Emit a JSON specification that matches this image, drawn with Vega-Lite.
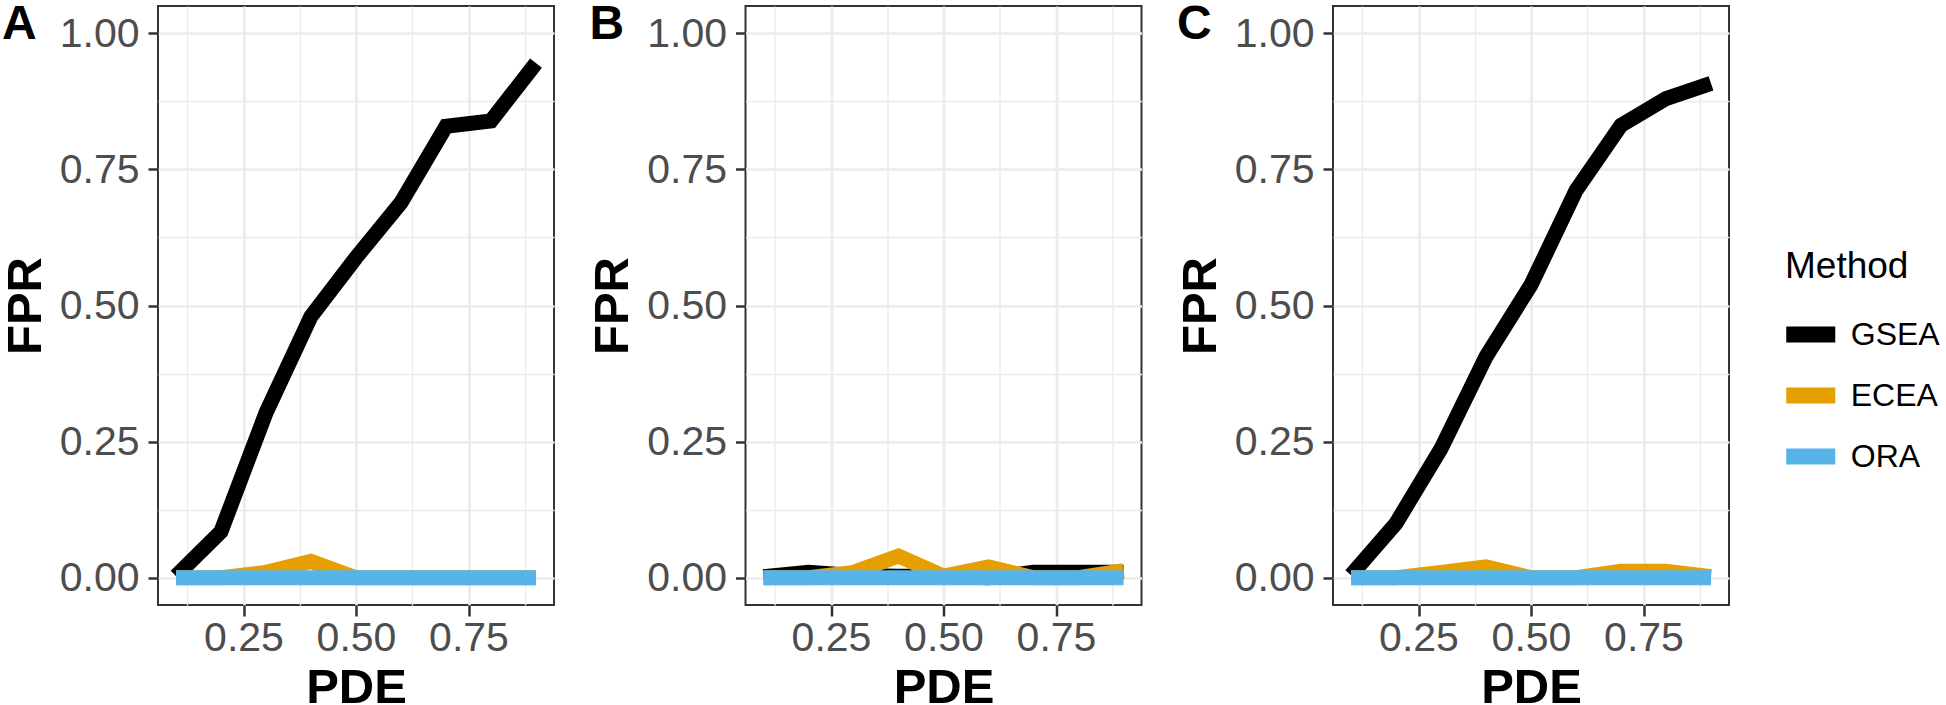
{
  "$schema": "https://vega.github.io/schema/vega-lite/v6.json",
  "autosize": {"type": "pad"},
  "padding": {"left": 0, "top": 0, "right": 0, "bottom": 0},
  "background": "white",
  "data": {"values": [
    {"panel": "A", "Method": "GSEA", "PDE": 0.1, "FPR": 0.003},
    {"panel": "A", "Method": "GSEA", "PDE": 0.2, "FPR": 0.085},
    {"panel": "A", "Method": "GSEA", "PDE": 0.3, "FPR": 0.303},
    {"panel": "A", "Method": "GSEA", "PDE": 0.4, "FPR": 0.48},
    {"panel": "A", "Method": "GSEA", "PDE": 0.5, "FPR": 0.588},
    {"panel": "A", "Method": "GSEA", "PDE": 0.6, "FPR": 0.689},
    {"panel": "A", "Method": "GSEA", "PDE": 0.7, "FPR": 0.829},
    {"panel": "A", "Method": "GSEA", "PDE": 0.8, "FPR": 0.839},
    {"panel": "A", "Method": "GSEA", "PDE": 0.9, "FPR": 0.945},
    {"panel": "A", "Method": "ECEA", "PDE": 0.1, "FPR": 0.0},
    {"panel": "A", "Method": "ECEA", "PDE": 0.2, "FPR": 0.0},
    {"panel": "A", "Method": "ECEA", "PDE": 0.3, "FPR": 0.01},
    {"panel": "A", "Method": "ECEA", "PDE": 0.4, "FPR": 0.03},
    {"panel": "A", "Method": "ECEA", "PDE": 0.5, "FPR": 0.0},
    {"panel": "A", "Method": "ECEA", "PDE": 0.6, "FPR": 0.0},
    {"panel": "A", "Method": "ECEA", "PDE": 0.7, "FPR": 0.0},
    {"panel": "A", "Method": "ECEA", "PDE": 0.8, "FPR": 0.0},
    {"panel": "A", "Method": "ECEA", "PDE": 0.9, "FPR": 0.0},
    {"panel": "A", "Method": "ORA", "PDE": 0.1, "FPR": 0.0},
    {"panel": "A", "Method": "ORA", "PDE": 0.2, "FPR": 0.0},
    {"panel": "A", "Method": "ORA", "PDE": 0.3, "FPR": 0.0},
    {"panel": "A", "Method": "ORA", "PDE": 0.4, "FPR": 0.0},
    {"panel": "A", "Method": "ORA", "PDE": 0.5, "FPR": 0.0},
    {"panel": "A", "Method": "ORA", "PDE": 0.6, "FPR": 0.0},
    {"panel": "A", "Method": "ORA", "PDE": 0.7, "FPR": 0.0},
    {"panel": "A", "Method": "ORA", "PDE": 0.8, "FPR": 0.0},
    {"panel": "A", "Method": "ORA", "PDE": 0.9, "FPR": 0.0},
    {"panel": "B", "Method": "GSEA", "PDE": 0.1, "FPR": 0.002},
    {"panel": "B", "Method": "GSEA", "PDE": 0.2, "FPR": 0.01},
    {"panel": "B", "Method": "GSEA", "PDE": 0.3, "FPR": 0.004},
    {"panel": "B", "Method": "GSEA", "PDE": 0.4, "FPR": 0.003},
    {"panel": "B", "Method": "GSEA", "PDE": 0.5, "FPR": 0.003},
    {"panel": "B", "Method": "GSEA", "PDE": 0.6, "FPR": 0.0},
    {"panel": "B", "Method": "GSEA", "PDE": 0.7, "FPR": 0.01},
    {"panel": "B", "Method": "GSEA", "PDE": 0.8, "FPR": 0.01},
    {"panel": "B", "Method": "GSEA", "PDE": 0.9, "FPR": 0.01},
    {"panel": "B", "Method": "ECEA", "PDE": 0.1, "FPR": 0.0},
    {"panel": "B", "Method": "ECEA", "PDE": 0.2, "FPR": 0.0},
    {"panel": "B", "Method": "ECEA", "PDE": 0.3, "FPR": 0.01},
    {"panel": "B", "Method": "ECEA", "PDE": 0.4, "FPR": 0.04},
    {"panel": "B", "Method": "ECEA", "PDE": 0.5, "FPR": 0.003},
    {"panel": "B", "Method": "ECEA", "PDE": 0.6, "FPR": 0.02},
    {"panel": "B", "Method": "ECEA", "PDE": 0.7, "FPR": 0.0},
    {"panel": "B", "Method": "ECEA", "PDE": 0.8, "FPR": 0.0},
    {"panel": "B", "Method": "ECEA", "PDE": 0.9, "FPR": 0.013},
    {"panel": "B", "Method": "ORA", "PDE": 0.1, "FPR": 0.0},
    {"panel": "B", "Method": "ORA", "PDE": 0.2, "FPR": 0.0},
    {"panel": "B", "Method": "ORA", "PDE": 0.3, "FPR": 0.0},
    {"panel": "B", "Method": "ORA", "PDE": 0.4, "FPR": 0.0},
    {"panel": "B", "Method": "ORA", "PDE": 0.5, "FPR": 0.0},
    {"panel": "B", "Method": "ORA", "PDE": 0.6, "FPR": 0.0},
    {"panel": "B", "Method": "ORA", "PDE": 0.7, "FPR": 0.0},
    {"panel": "B", "Method": "ORA", "PDE": 0.8, "FPR": 0.0},
    {"panel": "B", "Method": "ORA", "PDE": 0.9, "FPR": 0.0},
    {"panel": "C", "Method": "GSEA", "PDE": 0.1, "FPR": 0.005},
    {"panel": "C", "Method": "GSEA", "PDE": 0.2, "FPR": 0.1},
    {"panel": "C", "Method": "GSEA", "PDE": 0.3, "FPR": 0.237},
    {"panel": "C", "Method": "GSEA", "PDE": 0.4, "FPR": 0.406},
    {"panel": "C", "Method": "GSEA", "PDE": 0.5, "FPR": 0.538},
    {"panel": "C", "Method": "GSEA", "PDE": 0.6, "FPR": 0.711},
    {"panel": "C", "Method": "GSEA", "PDE": 0.7, "FPR": 0.831},
    {"panel": "C", "Method": "GSEA", "PDE": 0.8, "FPR": 0.88},
    {"panel": "C", "Method": "GSEA", "PDE": 0.9, "FPR": 0.908},
    {"panel": "C", "Method": "ECEA", "PDE": 0.1, "FPR": 0.0},
    {"panel": "C", "Method": "ECEA", "PDE": 0.2, "FPR": 0.0},
    {"panel": "C", "Method": "ECEA", "PDE": 0.3, "FPR": 0.01},
    {"panel": "C", "Method": "ECEA", "PDE": 0.4, "FPR": 0.02},
    {"panel": "C", "Method": "ECEA", "PDE": 0.5, "FPR": 0.0},
    {"panel": "C", "Method": "ECEA", "PDE": 0.6, "FPR": 0.0},
    {"panel": "C", "Method": "ECEA", "PDE": 0.7, "FPR": 0.012},
    {"panel": "C", "Method": "ECEA", "PDE": 0.8, "FPR": 0.012},
    {"panel": "C", "Method": "ECEA", "PDE": 0.9, "FPR": 0.002},
    {"panel": "C", "Method": "ORA", "PDE": 0.1, "FPR": 0.0},
    {"panel": "C", "Method": "ORA", "PDE": 0.2, "FPR": 0.0},
    {"panel": "C", "Method": "ORA", "PDE": 0.3, "FPR": 0.0},
    {"panel": "C", "Method": "ORA", "PDE": 0.4, "FPR": 0.0},
    {"panel": "C", "Method": "ORA", "PDE": 0.5, "FPR": 0.0},
    {"panel": "C", "Method": "ORA", "PDE": 0.6, "FPR": 0.0},
    {"panel": "C", "Method": "ORA", "PDE": 0.7, "FPR": 0.0},
    {"panel": "C", "Method": "ORA", "PDE": 0.8, "FPR": 0.0},
    {"panel": "C", "Method": "ORA", "PDE": 0.9, "FPR": 0.0}
  ]},
  "bounds": "flush",
  "spacing": 191.5,
  "hconcat": [
    {
      "title": {"text": "A", "orient": "none", "anchor": "start", "frame": "group", "align": "left", "baseline": "alphabetic", "dx": -156, "dy": 33, "offset": 0, "fontSize": 48, "fontWeight": "bold", "font": "Liberation Sans", "color": "#000000"},
      "width": 396, "height": 599,
      "transform": [{"filter": "datum.panel == 'A'"}],
      "mark": {"type": "line", "strokeWidth": 15, "strokeCap": "butt"},
      "encoding": {
        "x": {"field": "PDE", "type": "quantitative", "scale": {"domain": [0.06, 0.94], "nice": false, "zero": false},
          "axis": {"title": "PDE", "values": [0.125, 0.25, 0.375, 0.5, 0.625, 0.75, 0.875], "labelExpr": "datum.value % 0.25 == 0 ? format(datum.value, '.2f') : ''", "titlePadding": 5, "labelPadding": 2, "tickSize": 11,
            "gridWidth": {"condition": {"test": "datum.value % 0.25 == 0", "value": 2.7}, "value": 1.4},
            "tickOpacity": {"condition": {"test": "datum.value % 0.25 == 0", "value": 1}, "value": 0}}},
        "y": {"field": "FPR", "type": "quantitative", "scale": {"domain": [-0.05, 1.05], "nice": false, "zero": false},
          "axis": {"title": "FPR", "values": [0, 0.125, 0.25, 0.375, 0.5, 0.625, 0.75, 0.875, 1], "labelExpr": "datum.value % 0.25 == 0 ? format(datum.value, '.2f') : ''", "titlePadding": 9, "labelPadding": 9, "labelOffset": 1, "tickSize": 10,
            "gridWidth": {"condition": {"test": "datum.value % 0.25 == 0", "value": 2.7}, "value": 1.4},
            "tickOpacity": {"condition": {"test": "datum.value % 0.25 == 0", "value": 1}, "value": 0}}},
        "color": {"field": "Method", "type": "nominal", "scale": {"domain": ["GSEA", "ECEA", "ORA"], "range": ["#000000", "#E69F00", "#56B4E9"]},
          "legend": {"orient": "none", "legendX": 1627, "legendY": 243, "title": "Method", "titleFontSize": 37, "titleFontWeight": "normal", "titleColor": "#000000", "titlePadding": 28, "labelFontSize": 32, "labelColor": "#000000", "labelOffset": 19.5, "symbolType": "M-2,0H2", "symbolSize": 600.25, "symbolStrokeWidth": 16, "rowPadding": -4, "symbolOffset": 5.25, "padding": 0}}
      }
    },
    {
      "title": {"text": "B", "orient": "none", "anchor": "start", "frame": "group", "align": "left", "baseline": "alphabetic", "dx": -156, "dy": 33, "offset": 0, "fontSize": 48, "fontWeight": "bold", "font": "Liberation Sans", "color": "#000000"},
      "width": 396, "height": 599,
      "transform": [{"filter": "datum.panel == 'B'"}],
      "mark": {"type": "line", "strokeWidth": 15, "strokeCap": "butt"},
      "encoding": {
        "x": {"field": "PDE", "type": "quantitative", "scale": {"domain": [0.06, 0.94], "nice": false, "zero": false},
          "axis": {"title": "PDE", "values": [0.125, 0.25, 0.375, 0.5, 0.625, 0.75, 0.875], "labelExpr": "datum.value % 0.25 == 0 ? format(datum.value, '.2f') : ''", "titlePadding": 5, "labelPadding": 2, "tickSize": 11,
            "gridWidth": {"condition": {"test": "datum.value % 0.25 == 0", "value": 2.7}, "value": 1.4},
            "tickOpacity": {"condition": {"test": "datum.value % 0.25 == 0", "value": 1}, "value": 0}}},
        "y": {"field": "FPR", "type": "quantitative", "scale": {"domain": [-0.05, 1.05], "nice": false, "zero": false},
          "axis": {"title": "FPR", "values": [0, 0.125, 0.25, 0.375, 0.5, 0.625, 0.75, 0.875, 1], "labelExpr": "datum.value % 0.25 == 0 ? format(datum.value, '.2f') : ''", "titlePadding": 9, "labelPadding": 9, "labelOffset": 1, "tickSize": 10,
            "gridWidth": {"condition": {"test": "datum.value % 0.25 == 0", "value": 2.7}, "value": 1.4},
            "tickOpacity": {"condition": {"test": "datum.value % 0.25 == 0", "value": 1}, "value": 0}}},
        "color": {"field": "Method", "type": "nominal", "scale": {"domain": ["GSEA", "ECEA", "ORA"], "range": ["#000000", "#E69F00", "#56B4E9"]}}
      }
    },
    {
      "title": {"text": "C", "orient": "none", "anchor": "start", "frame": "group", "align": "left", "baseline": "alphabetic", "dx": -156, "dy": 33, "offset": 0, "fontSize": 48, "fontWeight": "bold", "font": "Liberation Sans", "color": "#000000"},
      "width": 396, "height": 599,
      "transform": [{"filter": "datum.panel == 'C'"}],
      "mark": {"type": "line", "strokeWidth": 15, "strokeCap": "butt"},
      "encoding": {
        "x": {"field": "PDE", "type": "quantitative", "scale": {"domain": [0.06, 0.94], "nice": false, "zero": false},
          "axis": {"title": "PDE", "values": [0.125, 0.25, 0.375, 0.5, 0.625, 0.75, 0.875], "labelExpr": "datum.value % 0.25 == 0 ? format(datum.value, '.2f') : ''", "titlePadding": 5, "labelPadding": 2, "tickSize": 11,
            "gridWidth": {"condition": {"test": "datum.value % 0.25 == 0", "value": 2.7}, "value": 1.4},
            "tickOpacity": {"condition": {"test": "datum.value % 0.25 == 0", "value": 1}, "value": 0}}},
        "y": {"field": "FPR", "type": "quantitative", "scale": {"domain": [-0.05, 1.05], "nice": false, "zero": false},
          "axis": {"title": "FPR", "values": [0, 0.125, 0.25, 0.375, 0.5, 0.625, 0.75, 0.875, 1], "labelExpr": "datum.value % 0.25 == 0 ? format(datum.value, '.2f') : ''", "titlePadding": 9, "labelPadding": 9, "labelOffset": 1, "tickSize": 10,
            "gridWidth": {"condition": {"test": "datum.value % 0.25 == 0", "value": 2.7}, "value": 1.4},
            "tickOpacity": {"condition": {"test": "datum.value % 0.25 == 0", "value": 1}, "value": 0}}},
        "color": {"field": "Method", "type": "nominal", "scale": {"domain": ["GSEA", "ECEA", "ORA"], "range": ["#000000", "#E69F00", "#56B4E9"]}}
      }
    }
  ],
  "resolve": {"scale": {"color": "shared"}},
  "config": {
    "font": "Liberation Sans",
    "view": {"stroke": "#333333", "strokeWidth": 2, "fill": "white"},
    "axis": {"domain": false, "grid": true, "gridColor": "#EBEBEB", "tickColor": "#333333", "tickWidth": 2.5, "labelFontSize": 41, "labelColor": "#4D4D4D", "labelFont": "Liberation Sans", "titleFont": "Liberation Sans", "titleFontSize": 49, "titleFontWeight": "bold", "titleColor": "#000000", "labelOverlap": false, "labelFlush": false, "labelBound": false},
    "legend": {"labelFont": "Liberation Sans", "titleFont": "Liberation Sans"}
  }
}
